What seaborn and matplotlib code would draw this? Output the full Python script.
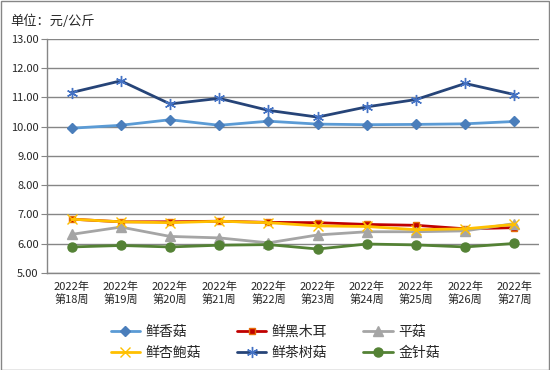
import pandas as pd
import matplotlib
matplotlib.use('Agg')
import matplotlib.pyplot as plt
import seaborn as sns
from matplotlib.ticker import FixedLocator

weeks = ['2022年\n第%d周' % w for w in range(18, 28)]

xiang_gu = [9.95, 10.05, 10.24, 10.05, 10.19, 10.09, 10.07, 10.08, 10.10, 10.18]
hei_mu_er = [6.84, 6.75, 6.75, 6.77, 6.73, 6.72, 6.66, 6.63, 6.51, 6.55]
ping_gu = [6.32, 6.57, 6.25, 6.20, 6.03, 6.30, 6.41, 6.41, 6.44, 6.69]
xing_bao_gu = [6.84, 6.75, 6.72, 6.77, 6.72, 6.61, 6.59, 6.48, 6.51, 6.66]
cha_shu_gu = [11.17, 11.57, 10.78, 10.97, 10.56, 10.33, 10.68, 10.93, 11.48, 11.10]
jin_zhen_gu = [5.89, 5.94, 5.89, 5.95, 5.97, 5.82, 5.99, 5.96, 5.89, 6.01]

series = [
    ('鲜香菇', xiang_gu, '#5B9BD5', 'D', '#4A7EBB', '#4A7EBB', 5.5),
    ('鲜黑木耳', hei_mu_er, '#C00000', 's', '#C00000', '#E46C0A', 4.5),
    ('平菇', ping_gu, '#A5A5A5', '^', '#A5A5A5', '#A5A5A5', 6.5),
    ('鲜杏鲍菇', xing_bao_gu, '#FFC000', 'x', '#FFC000', '#FFC000', 7),
    ('鲜茶树菇', cha_shu_gu, '#264478', (6, 2, 0), '#4472C4', '#4472C4', 8),
    ('金针菇', jin_zhen_gu, '#548235', 'o', '#548235', '#548235', 6.5),
]

sns.set_style('white')
plt.rcParams['font.family'] = ['Noto Sans CJK SC', 'DejaVu Sans']

fig = plt.figure(figsize=(5.5, 3.7), dpi=100)
ax = fig.add_axes([0.0855, 0.2622, 0.8945, 0.6324])

for name, vals, color, marker, mface, medge, msize in series:
    df = pd.DataFrame({'week': weeks, 'price': vals})
    sns.lineplot(data=df, x='week', y='price', ax=ax, color=color, linewidth=2,
                 marker=marker, markersize=msize,
                 markerfacecolor=mface, markeredgecolor=medge,
                 markeredgewidth=1,
                 label=name, sort=False)

ax.set_ylim(5, 13)
ax.set_yticks(range(5, 14))
ax.set_yticklabels(['%.2f' % v for v in range(5, 14)], fontsize=8)
ax.set_xlim(-0.5, 9.5)
ax.set_xticks(range(10))
ax.set_xticklabels(weeks, fontsize=8, linespacing=1.25)
ax.xaxis.set_minor_locator(FixedLocator([i - 0.5 for i in range(11)]))
ax.tick_params(axis='x', which='major', length=0, pad=6)
ax.tick_params(axis='x', which='minor', length=4, color='#868686', direction='out')
ax.tick_params(axis='y', length=4, color='#868686', direction='out', pad=2, left=True)
ax.set_xlabel('')
ax.set_ylabel('')
ax.grid(axis='y', color='#868686', linewidth=1)
ax.set_axisbelow(True)
for s in ['top', 'right']:
    ax.spines[s].set_visible(False)
for s in ['left', 'bottom']:
    ax.spines[s].set_color('#868686')
    ax.spines[s].set_linewidth(1)

handles, labels = ax.get_legend_handles_labels()
order = [0, 3, 1, 4, 2, 5]
ax.legend([handles[i] for i in order], [labels[i] for i in order], ncol=3,
          loc='lower center', bbox_to_anchor=(0.464, -0.424), frameon=False,
          fontsize=10, handlelength=2.1, columnspacing=2.6, labelspacing=0.5,
          handletextpad=0.4)

fig.text(0.018, 0.96, '单位：元/公斤', fontsize=9.5, va='top')
fig.patches.append(plt.Rectangle((0.001, 0.001), 0.997, 0.997, transform=fig.transFigure,
                                 fill=False, edgecolor='#868686', linewidth=1))

fig.savefig('out.png', dpi=100)
